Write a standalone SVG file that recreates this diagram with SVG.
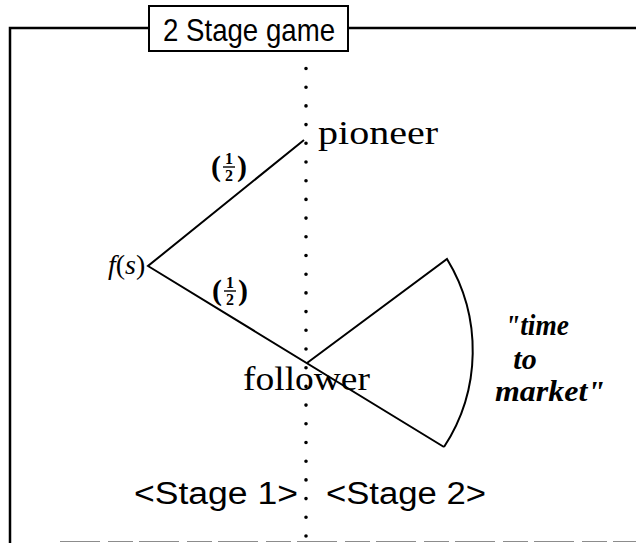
<svg xmlns="http://www.w3.org/2000/svg" width="636" height="543" viewBox="0 0 636 543">
  <style>
    .frame { fill: none; stroke: #000; stroke-width: 2.5; }
    .edge { fill: none; stroke: #000; stroke-width: 2; }
    .sans { font-family: "Liberation Sans", Arial, sans-serif; fill: #000; }
    .serif { font-family: "Liberation Serif", "Times New Roman", serif; fill: #000; }
    .lbl { font-size: 33px; }
    .frac { font-size: 16px; font-weight: bold; }
    .paren { font-size: 30px; font-weight: bold; }
    .emph { font-size: 30px; font-style: italic; font-weight: bold; }
  </style>
  <rect width="636" height="543" fill="#fff"/>

  <!-- outer frame and title -->
  <g id="frame">
    <path class="frame" d="M149,28 H10 V543"/>
    <path class="frame" d="M348,28 H636"/>
    <path d="M60,541.5 H636" stroke="#000" stroke-width="1.2" stroke-dasharray="40 8 25 6" fill="none" opacity="0.45"/>
  </g>
  <g id="title">
    <rect x="149" y="6" width="199" height="45" fill="#fff" stroke="#000" stroke-width="2"/>
    <text class="sans" x="249" y="41" font-size="32" text-anchor="middle" textLength="172" lengthAdjust="spacingAndGlyphs">2 Stage game</text>
  </g>

  <!-- stage divider -->
  <g id="divider">
    <line x1="306" y1="68.5" x2="306" y2="543" stroke="#000" stroke-width="3.6" stroke-linecap="round" stroke-dasharray="0 18.7"/>
  </g>

  <!-- connectors -->
  <g id="connectors">
    <path class="edge" d="M304,140 L148,266 L444,447"/>
    <path class="edge" d="M307,363 L447,259 A176,176 0 0 1 444,447"/>
  </g>

  <!-- nodes -->
  <g id="root">
    <text class="serif" x="108" y="274" font-size="28" font-style="italic">f<tspan font-style="normal">(</tspan>s<tspan font-style="normal">)</tspan></text>
  </g>
  <g id="pioneer">
    <text class="serif lbl" x="318" y="144" textLength="120" lengthAdjust="spacingAndGlyphs">pioneer</text>
  </g>
  <g id="follower">
    <text class="serif lbl" x="243" y="390" textLength="127" lengthAdjust="spacingAndGlyphs">follower</text>
  </g>

  <!-- branch probabilities -->
  <g id="prob-upper">
    <text class="serif paren" x="211" y="176">(</text>
    <text class="serif frac" x="229" y="164" text-anchor="middle">1</text>
    <line x1="223" y1="167" x2="235" y2="167" stroke="#000" stroke-width="1.4"/>
    <text class="serif frac" x="229" y="181" text-anchor="middle">2</text>
    <text class="serif paren" x="237" y="176">)</text>
  </g>
  <g id="prob-lower">
    <text class="serif paren" x="212" y="300">(</text>
    <text class="serif frac" x="230" y="288" text-anchor="middle">1</text>
    <line x1="224" y1="291" x2="236" y2="291" stroke="#000" stroke-width="1.4"/>
    <text class="serif frac" x="230" y="305" text-anchor="middle">2</text>
    <text class="serif paren" x="238" y="300">)</text>
  </g>

  <!-- fan annotation -->
  <g id="time-to-market">
    <text class="serif emph" x="505" y="335" textLength="64" lengthAdjust="spacingAndGlyphs">"time</text>
    <text class="serif emph" x="525" y="369" text-anchor="middle">to</text>
    <text class="serif emph" x="495" y="401" textLength="110" lengthAdjust="spacingAndGlyphs">market"</text>
  </g>

  <!-- stage captions -->
  <g id="stage-labels">
    <text class="sans" x="216" y="504" font-size="31" text-anchor="middle" textLength="164" lengthAdjust="spacingAndGlyphs">&lt;Stage 1&gt;</text>
    <text class="sans" x="406" y="504" font-size="31" text-anchor="middle" textLength="160" lengthAdjust="spacingAndGlyphs">&lt;Stage 2&gt;</text>
  </g>
</svg>
